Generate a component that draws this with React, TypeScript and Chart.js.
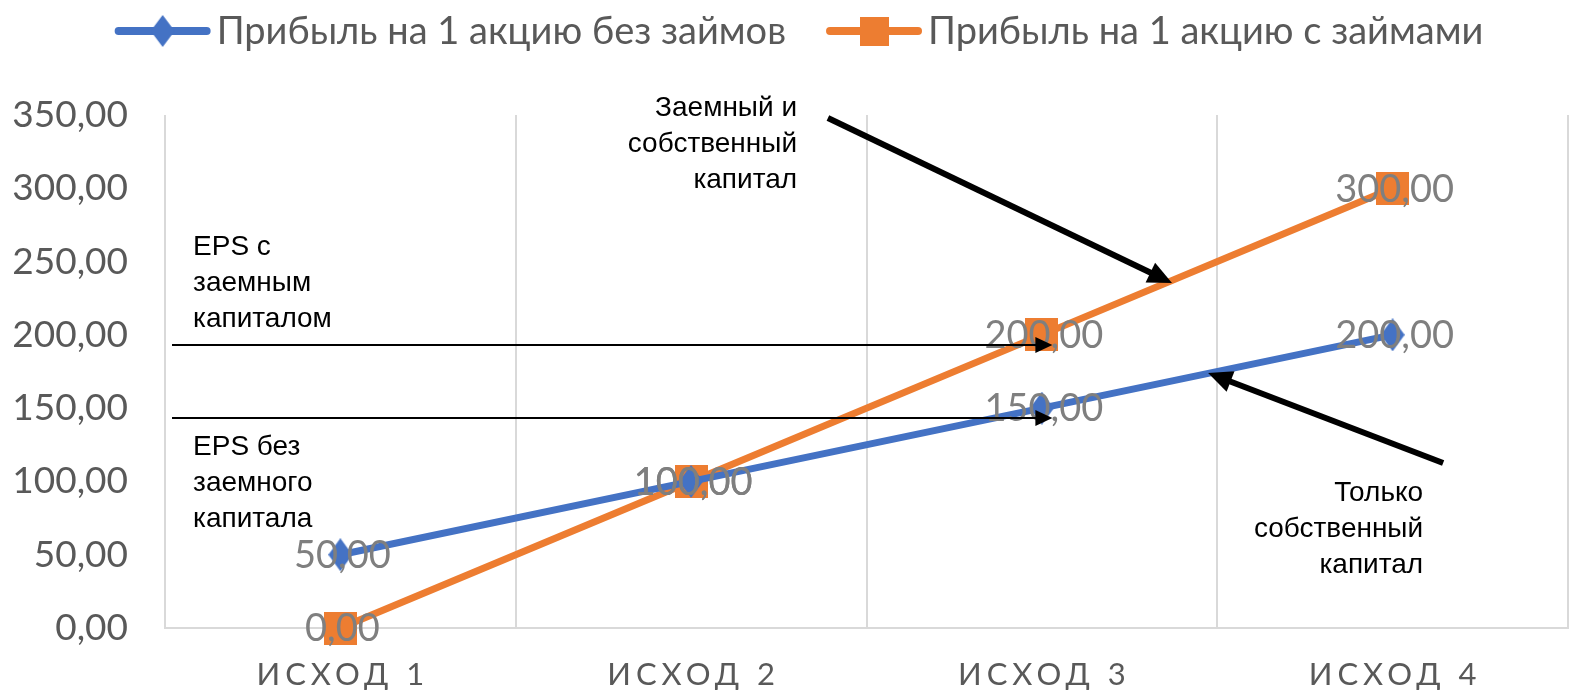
import React, { useEffect, useRef } from 'react';
import { Chart, registerables } from 'chart.js';

Chart.register(...registerables);

const categories = ['ИСХОД 1', 'ИСХОД 2', 'ИСХОД 3', 'ИСХОД 4'];
const seriesNames = ['Прибыль на 1 акцию без займов', 'Прибыль на 1 акцию с займами'];
const epsWithoutDebt = [50, 100, 150, 200];
const epsWithDebt = [0, 100, 200, 300];
const yMin = 0;
const yMax = 350;
const yStep = 50;

const BLUE = '#4472C4';
const ORANGE = '#ED7D31';
const AXIS_TEXT = '#595959';
const LABEL_TEXT = '#7f7f7f';
const GRID = '#d9d9d9';

// annotation arrows and notes, positioned in data space (category index, value)
const arrows = [
  { from: [-0.48, 193.1], to: [2.03, 193.1], width: 2, headLen: 17, headW: 16 },
  { from: [-0.48, 143.3], to: [2.03, 143.3], width: 2, headLen: 17, headW: 16 },
  { from: [1.39, 348], to: [2.371, 235.4], width: 6, headLen: 24, headW: 22 },
  { from: [3.144, 112.6], to: [2.474, 174.0], width: 6, headLen: 24, headW: 22 },
];
const notes = [
  { lines: ['Заемный и', 'собственный', 'капитал'], at: [1.302, 354.8], align: 'right' },
  { lines: ['EPS с', 'заемным', 'капиталом'], at: [-0.42, 260], align: 'left' },
  { lines: ['EPS без', 'заемного', 'капитала'], at: [-0.42, 123.5], align: 'left' },
  { lines: ['Только', 'собственный', 'капитал'], at: [3.087, 92.1], align: 'right' },
];

const fmt = (v: number) => v.toFixed(2).replace('.', ',');

function makeDiamond(w: number, h: number, color: string) {
  const c = document.createElement('canvas');
  c.width = w;
  c.height = h;
  const g = c.getContext('2d')!;
  g.fillStyle = color;
  g.beginPath();
  g.moveTo(w / 2, 0);
  g.lineTo(w, h / 2);
  g.lineTo(w / 2, h);
  g.lineTo(0, h / 2);
  g.closePath();
  g.fill();
  return c;
}

function makeSquare(s: number, color: string) {
  const c = document.createElement('canvas');
  c.width = s;
  c.height = s;
  const g = c.getContext('2d')!;
  g.fillStyle = color;
  g.fillRect(0, 0, s, s);
  return c;
}

function drawArrow(ctx: CanvasRenderingContext2D, x1: number, y1: number, x2: number, y2: number, lw: number, headLen: number, headW: number) {
  const ang = Math.atan2(y2 - y1, x2 - x1);
  const bx = x2 - headLen * Math.cos(ang);
  const by = y2 - headLen * Math.sin(ang);
  ctx.save();
  ctx.strokeStyle = '#000';
  ctx.fillStyle = '#000';
  ctx.lineWidth = lw;
  ctx.lineCap = 'butt';
  ctx.beginPath();
  ctx.moveTo(x1, y1);
  ctx.lineTo(bx + Math.cos(ang), by + Math.sin(ang));
  ctx.stroke();
  ctx.beginPath();
  ctx.moveTo(x2, y2);
  ctx.lineTo(bx + (headW / 2) * Math.sin(ang), by - (headW / 2) * Math.cos(ang));
  ctx.lineTo(bx - (headW / 2) * Math.sin(ang), by + (headW / 2) * Math.cos(ang));
  ctx.closePath();
  ctx.fill();
  ctx.restore();
}

export default function App() {
  const ref = useRef<HTMLCanvasElement>(null);

  useEffect(() => {
    const diamond = makeDiamond(24, 33, BLUE);
    const square = makeSquare(33, ORANGE);
    const legDiamond = makeDiamond(24, 32, BLUE);
    const legSquare = makeSquare(29, ORANGE);

    const overlay = {
      id: 'overlay',
      afterDatasetsDraw(chart: any) {
        const ctx: CanvasRenderingContext2D = chart.ctx;
        const xs = chart.scales.x;
        const ys = chart.scales.y;
        // data labels
        ctx.save();
        ctx.font = '38px Lato';
        ctx.fillStyle = LABEL_TEXT;
        ctx.textAlign = 'center';
        ctx.textBaseline = 'middle';
        chart.data.datasets.forEach((ds: any, di: number) => {
          const meta = chart.getDatasetMeta(di);
          meta.data.forEach((pt: any, i: number) => {
            ctx.fillText(fmt(ds.data[i]), pt.x + 2, pt.y + 1);
          });
        });
        ctx.restore();

        // arrows
        arrows.forEach((a) => {
          drawArrow(
            ctx,
            xs.getPixelForValue(a.from[0]),
            ys.getPixelForValue(a.from[1]),
            xs.getPixelForValue(a.to[0]),
            ys.getPixelForValue(a.to[1]),
            a.width,
            a.headLen,
            a.headW
          );
        });

        // notes
        ctx.save();
        ctx.font = '28px "Liberation Sans", Arial';
        ctx.fillStyle = '#000';
        ctx.textBaseline = 'middle';
        notes.forEach((n) => {
          ctx.textAlign = n.align as CanvasTextAlign;
          const x = xs.getPixelForValue(n.at[0]);
          const y = ys.getPixelForValue(n.at[1]);
          n.lines.forEach((line, li) => ctx.fillText(line, x, y + li * 36));
        });
        ctx.restore();
      },
      afterDraw(chart: any) {
        const ctx: CanvasRenderingContext2D = chart.ctx;
        const xs = chart.scales.x;
        const area = chart.chartArea;
        // x category labels, letter-spaced
        ctx.save();
        ctx.font = '31px Lato';
        ctx.fillStyle = AXIS_TEXT;
        ctx.textAlign = 'center';
        ctx.textBaseline = 'middle';
        const spacing = 5;
        (ctx as any).letterSpacing = spacing + 'px';
        categories.forEach((c, i) => {
          ctx.fillText(c, xs.getPixelForTick(i) + spacing / 2, area.bottom + 47);
        });
        ctx.restore();

        // legend
        ctx.save();
        ctx.font = '38px Lato';
        ctx.textBaseline = 'middle';
        ctx.textAlign = 'left';
        const lineLen = 96;
        const gapText = 6;
        const gapItem = 40;
        const widths = seriesNames.map((s) => ctx.measureText(s).width);
        const total = widths.reduce((a, b) => a + b, 0) + 2 * (lineLen + gapText) + gapItem;
        let x = chart.width / 2 - total / 2 + 14;
        const y = 31;
        const colors = [BLUE, ORANGE];
        const marks = [legDiamond, legSquare];
        seriesNames.forEach((s, i) => {
          ctx.strokeStyle = colors[i];
          ctx.lineWidth = 8;
          ctx.lineCap = 'round';
          ctx.beginPath();
          ctx.moveTo(x + 4, y);
          ctx.lineTo(x + lineLen - 4, y);
          ctx.stroke();
          const m = marks[i];
          ctx.drawImage(m, x + lineLen / 2 - m.width / 2, y - m.height / 2);
          ctx.fillStyle = AXIS_TEXT;
          ctx.fillText(s, x + lineLen + gapText, y + 1);
          x += lineLen + gapText + widths[i] + gapItem;
        });
        ctx.restore();
      },
    };

    const chart = new Chart(ref.current!, {
      type: 'line',
      data: {
        labels: categories,
        datasets: [
          {
            label: seriesNames[0],
            data: epsWithoutDebt,
            borderColor: BLUE,
            backgroundColor: BLUE,
            borderWidth: 7,
            pointStyle: diamond as any,
            pointRadius: 16,
            tension: 0,
            clip: false as any,
          },
          {
            label: seriesNames[1],
            data: epsWithDebt,
            borderColor: ORANGE,
            backgroundColor: ORANGE,
            borderWidth: 7,
            pointStyle: square as any,
            pointRadius: 17,
            tension: 0,
            clip: false as any,
          },
        ],
      },
      options: {
        animation: false,
        responsive: false,
        layout: { autoPadding: false, padding: { top: 115, right: 2, left: 0, bottom: 0 } },
        plugins: {
          legend: { display: false },
          tooltip: { enabled: false },
        },
        scales: {
          x: {
            type: 'category',
            offset: true,
            grid: {
              display: true,
              offset: true,
              drawTicks: false,
              lineWidth: 2,
              color: (c: any) => (c.index === categories.length ? 'rgba(0,0,0,0)' : GRID),
            },
            border: { display: true, color: GRID, width: 2 },
            ticks: { display: false },
            afterFit: (s: any) => {
              s.height = 67;
            },
          },
          y: {
            min: yMin,
            max: yMax,
            grid: { display: false, drawTicks: false },
            border: { display: false },
            ticks: {
              stepSize: yStep,
              padding: 37,
              color: AXIS_TEXT,
              font: { family: 'Lato', size: 37 },
              callback: (v: any) => fmt(Number(v)),
            },
            afterFit: (s: any) => {
              s.width = 165;
            },
          },
        },
      },
      plugins: [overlay],
    });
    return () => chart.destroy();
  }, []);

  return (
    <div style={{ position: 'absolute', left: 0, top: 0, width: 1570, height: 695, background: '#fff' }}>
      <canvas ref={ref} width={1570} height={695} style={{ display: 'block' }} />
    </div>
  );
}
